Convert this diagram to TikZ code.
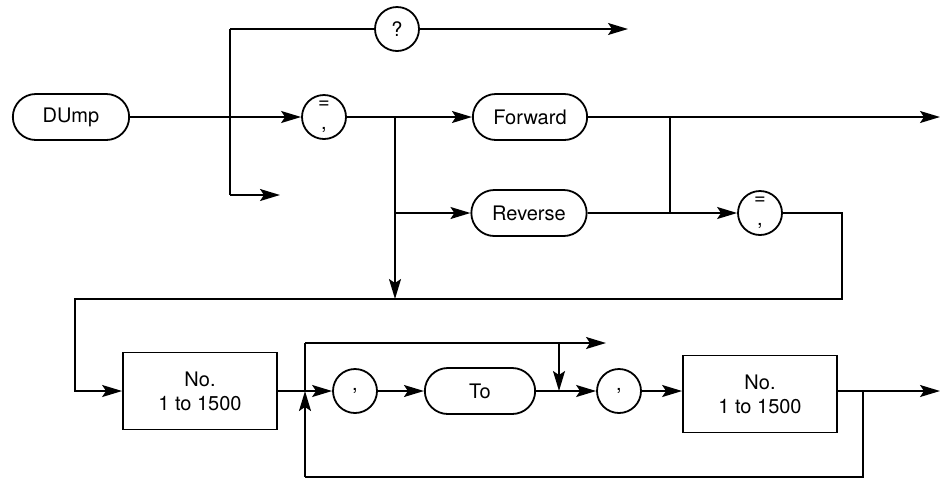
\documentclass[tikz,border=0pt]{standalone}
\usepackage{fontspec}
\setmainfont{TeX Gyre Heros}
\usetikzlibrary{arrows.meta,shapes.misc}

\tikzset{
  syn/.style={line width=1.8pt},
  arr/.style={syn,-{Stealth[length=20pt,width=12pt,inset=4pt]}},
  keyw/.style={rounded rectangle, draw, line width=1.8pt, minimum height=46pt,
    font=\fontsize{20}{24}\selectfont},
  punc/.style={circle, draw, line width=1.8pt, minimum size=44pt, inner sep=0pt,
    align=center, font=\fontsize{20}{24}\selectfont},
  numbox/.style={rectangle, draw, line width=1.8pt, minimum width=154pt,
    minimum height=77pt, align=center, font=\fontsize{20}{24}\selectfont}
}

\begin{document}
\begin{tikzpicture}[x=1pt,y=1pt,yscale=-1,xscale=1]
\useasboundingbox (0,0) rectangle (941,483);

% row 1
\node[keyw, minimum width=123pt] (dump) at (71,117) {DUmp};
\node[punc] (query) at (397,29) {?};
\node[punc] (eqc1) at (324,117) {=\\[-3pt],};
\node[keyw, minimum width=121pt] (fwd) at (530,117) {Forward};
\node[keyw, minimum width=122pt] (rev) at (529,213) {Reverse};
\node[punc] (eqc2) at (760,213) {=\\[-3pt],};

% row 3
\node[numbox] (num1) at (200,391) {No.\\1 to 1500};
\node[punc] (com1) at (355,391) {,};
\node[keyw, minimum width=117pt] (to) at (480,391) {To};
\node[punc] (com2) at (619,391) {,};
\node[numbox] (num2) at (760,394) {No.\\1 to 1500};

\coordinate (jA) at (230,117);
\coordinate (jAt) at (230,29);
\coordinate (jAb) at (230,195);
\coordinate (qEnd) at (628,29);
\coordinate (skipA) at (280,195);

\draw[arr] (dump.east) -- (eqc1.west);
\draw[syn] (jAt) -- (jAb);
\draw[syn] (jAt) -- (query.west);
\draw[arr] (query.east) -- (qEnd);
\draw[arr] (jAb) -- (skipA);

% row 2
\coordinate (jB) at (395,117);
\coordinate (jBr) at (395,213);
\coordinate (jBd) at (395,299);
\coordinate (jC) at (670,117);
\coordinate (jCr) at (670,213);
\coordinate (out1) at (940,117);
\coordinate (retA) at (842,213);
\coordinate (retB) at (842,299);
\coordinate (retC) at (75,299);
\coordinate (retD) at (75,391);

\draw[syn] (eqc1.east) -- (jB);
\draw[arr] (jB) -- (fwd.west);
\draw[syn] (jB) -- (jBr);
\draw[arr] (jBr) -- (rev.west);
\draw[arr] (jBr) -- (jBd);
\draw[arr] (fwd.east) -- (out1);
\draw[syn] (jC) -- (jCr);
\draw[syn] (rev.east) -- (jCr);
\draw[arr] (jCr) -- (eqc2.west);
\draw[arr] (eqc2.east) -- (retA) -- (retB) -- (retC) -- (retD) -- (num1.west);

% row 3 connectors
\coordinate (jL) at (305,391);
\coordinate (loopT) at (305,343);
\coordinate (loopB) at (305,477);
\coordinate (skipEnd) at (606,343);
\coordinate (jD) at (559,391);
\coordinate (jDt) at (559,343);
\coordinate (jE) at (863,391);
\coordinate (jEb) at (863,477);
\coordinate (out3) at (940,391);

\draw[syn] (num1.east) -- (jL);
\draw[arr] (jL) -- (com1.west);
\draw[syn] (jL) -- (loopT);
\draw[arr] (loopT) -- (skipEnd);
\draw[arr] (jDt) -- (jD);
\draw[arr] (com1.east) -- (to.west);
\draw[syn] (to.east) -- (jD);
\draw[arr] (jD) -- (com2.west);
\draw[arr] (com2.east) -- (num2.west |- com2);
\draw[arr] (num2.east |- jE) -- (out3);
\draw[syn] (jE) -- (jEb) -- (loopB);
\draw[arr] (loopB) -- (jL);

\end{tikzpicture}
\end{document}
